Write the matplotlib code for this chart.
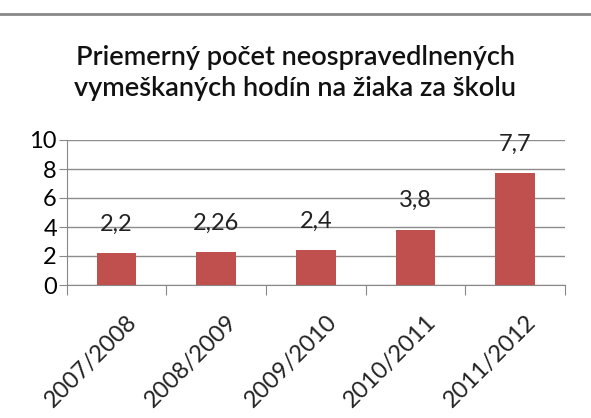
import numpy as np
import matplotlib.pyplot as plt
from matplotlib.lines import Line2D

roky = ['2007/2008', '2008/2009', '2009/2010', '2010/2011', '2011/2012']
hodnoty = [2.2, 2.26, 2.4, 3.8, 7.7]
y_ticks = [0, 2, 4, 6, 8, 10]

plt.rcParams['font.family'] = ['Lato', 'DejaVu Sans']

W, H = 591, 418
fig = plt.figure(figsize=(W / 100, H / 100), dpi=100)

# pozicia grafu v pixeloch
x0, x1, y_top, y_bot = 66.7, 565, 140, 285
ax = fig.add_axes([x0 / W, (H - y_bot) / H, (x1 - x0) / W, (y_bot - y_top) / H])

x = np.arange(len(roky))
ax.bar(x, hodnoty, width=0.4, color='#C0504D', zorder=3)
for xi, v in zip(x, hodnoty):
    ax.annotate(f'{v:g}'.replace('.', ','), (xi, v), xytext=(0, 21), textcoords='offset points',
                ha='center', va='center', fontsize=17, color='#222222')

ax.set_xlim(-0.5, len(roky) - 0.5)
ax.set_ylim(0, 10)
ax.set_yticks(y_ticks)
ax.tick_params(axis='y', labelsize=17, length=6, color='#888888', pad=1)
ax.grid(axis='y', color='#8c8c8c', linewidth=1, zorder=0)

# ticky na hraniciach kategorii
ax.set_xticks(np.arange(-0.5, len(roky), 1))
ax.set_xticklabels([])
ax.tick_params(axis='x', length=7, color='#888888')
for xi, r in zip(x, roky):
    ax.text(xi + 0.1, -1.8, r, rotation=45, ha='right', va='top', rotation_mode='anchor',
            fontsize=17, color='#222222')

for s in ['top', 'right']:
    ax.spines[s].set_visible(False)
ax.spines['left'].set_color('#888888')
ax.spines['bottom'].set_color('#888888')

fig.text(0.5, (H - 73) / H, 'Priemerný počet neospravedlnených\nvymeškaných hodín na žiaka za školu',
         ha='center', va='center', fontsize=19.5, fontweight='semibold', linespacing=1.3,
         color='#111111')

fig.add_artist(Line2D([0, 1], [(H - 14) / H] * 2, color='#888888', linewidth=2))

plt.savefig('out.png', dpi=100)
